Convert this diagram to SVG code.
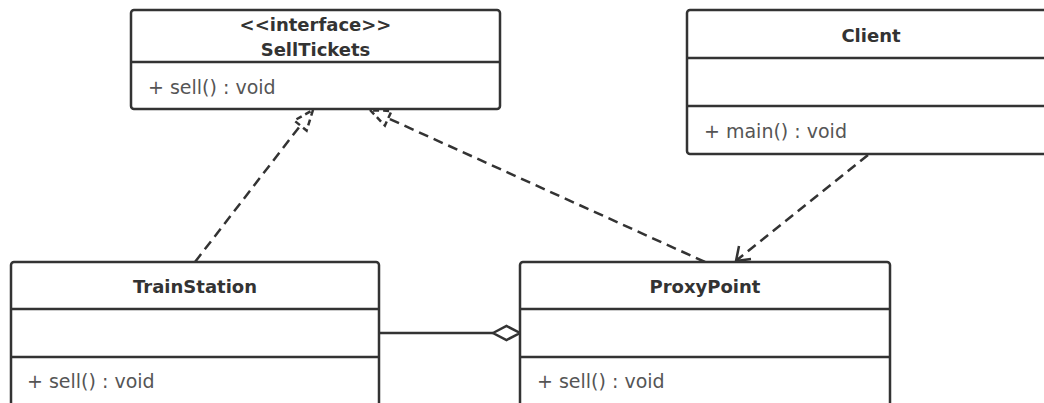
<svg xmlns="http://www.w3.org/2000/svg" width="1044" height="403" viewBox="0 0 1044 403">
<style>
.box{fill:#fff;stroke:#333;stroke-width:2.5}
.div{stroke:#333;stroke-width:2.5}
.name{font-family:"DejaVu Sans",sans-serif;font-weight:bold;font-size:18px;fill:#333;text-anchor:middle}
.mem{font-family:"DejaVu Sans",sans-serif;font-size:19px;fill:#555}
.dash{fill:none;stroke:#333;stroke-width:2.5;stroke-dasharray:10 6}
.solid{fill:none;stroke:#333;stroke-width:2.5}
</style>
<rect width="1044" height="403" fill="#fff"/>
<g id="connectors">
  <line class="dash" x1="195" y1="262" x2="300.4" y2="125.5"/>
  <polygon points="313,110 306.6,130.5 294.2,120.5" fill="#fff" stroke="#333" stroke-width="2.5" stroke-dasharray="6 4"/>
  <line class="dash" x1="705" y1="262" x2="388.2" y2="118.3"/>
  <polygon points="370,110 384.9,125.6 391.5,111" fill="#fff" stroke="#333" stroke-width="2.5" stroke-dasharray="6 4"/>
  <line class="dash" x1="868" y1="155" x2="737" y2="260"/>
  <polyline class="solid" points="739,246 736,261 751,259"/>
  <line class="solid" x1="379" y1="333" x2="493" y2="333"/>
  <polygon points="493,333 506.5,326 520,333 506.5,340" fill="#fff" stroke="#333" stroke-width="2.5"/>
</g>
<g id="SellTickets">
  <rect class="box" x="131" y="10" width="369" height="99" rx="3"/>
  <line class="div" x1="131" y1="62" x2="500" y2="62"/>
  <text class="name" x="315.5" y="31">&lt;&lt;interface&gt;&gt;</text>
  <text class="name" x="315.5" y="56">SellTickets</text>
  <text class="mem" x="148" y="94">+ sell() : void</text>
</g>
<g id="Client">
  <rect class="box" x="687" y="10" width="370" height="144" rx="3"/>
  <line class="div" x1="687" y1="58" x2="1044" y2="58"/>
  <line class="div" x1="687" y1="106" x2="1044" y2="106"/>
  <text class="name" x="871" y="42">Client</text>
  <text class="mem" x="704" y="138">+ main() : void</text>
</g>
<g id="TrainStation">
  <rect class="box" x="11" y="262" width="368" height="150" rx="3"/>
  <line class="div" x1="11" y1="309" x2="379" y2="309"/>
  <line class="div" x1="11" y1="357" x2="379" y2="357"/>
  <text class="name" x="195" y="293">TrainStation</text>
  <text class="mem" x="27" y="388">+ sell() : void</text>
</g>
<g id="ProxyPoint">
  <rect class="box" x="520" y="262" width="370" height="150" rx="3"/>
  <line class="div" x1="520" y1="309" x2="890" y2="309"/>
  <line class="div" x1="520" y1="357" x2="890" y2="357"/>
  <text class="name" x="705" y="293">ProxyPoint</text>
  <text class="mem" x="537" y="388">+ sell() : void</text>
</g>
</svg>
